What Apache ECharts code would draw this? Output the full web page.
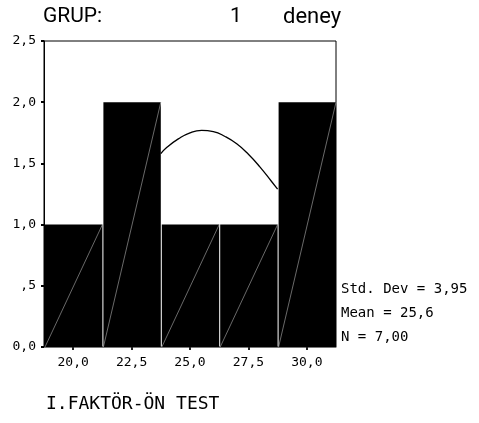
<!DOCTYPE html>
<html>
<head>
<meta charset="utf-8">
<script src="https://cdn.jsdelivr.net/npm/echarts@6/dist/echarts.min.js"></script>
<style>
  html, body { margin: 0; padding: 0; background: #fff; }
  #chart { width: 479px; height: 423px; }
</style>
</head>
<body>
<div id="chart"></div>
<script>
// Histogram bins (centre of each bin) and frequencies
const binCenters = [20, 22.5, 25, 27.5, 30];
const binWidth = 2.5;
const counts = [1, 2, 1, 1, 2];

// Visible part of the fitted normal curve (x, frequency)
const curveX = [23.75, 24.0, 24.5, 25.0, 25.5, 26.0, 26.5, 27.0, 27.5, 28.0, 28.5, 28.75];
const curveY = [1.58, 1.63, 1.70, 1.75, 1.77, 1.76, 1.72, 1.66, 1.575, 1.47, 1.35, 1.29];

// Tick values
const xTicks = [20, 22.5, 25, 27.5, 30];

// Texts
const titleParts = ['GRUP:', '1', 'deney'];
const statLines = ['Std. Dev = 3,95', 'Mean = 25,6', 'N = 7,00'];
const xAxisName = 'I.FAKTÖR-ÖN TEST';

const monoFont = '"DejaVu Sans Mono", "Liberation Mono", monospace';

function fmt(v) {
  let s = v.toFixed(1).replace('.', ',');
  if (v > 0 && v < 1) s = s.slice(1);
  return s;
}

const chart = echarts.init(document.getElementById('chart'), null, { renderer: 'canvas' });

const barData = binCenters.map((c, i) => [c, counts[i]]);
const curveData = curveX.map((x, i) => [x, curveY[i]]);

chart.setOption({
  animation: false,
  backgroundColor: '#fff',
  grid: {
    left: 44, top: 41, width: 292, height: 306,
    show: true, borderColor: '#000', borderWidth: 1, backgroundColor: 'transparent'
  },
  xAxis: {
    type: 'value',
    min: binCenters[0] - binWidth / 2,
    max: binCenters[binCenters.length - 1] + binWidth / 2,
    splitLine: { show: false },
    axisLine: { show: true, lineStyle: { color: '#777', width: 1 } },
    axisTick: { show: true, customValues: xTicks, length: 3, lineStyle: { color: '#222', width: 2 } },
    axisLabel: {
      customValues: xTicks,
      formatter: fmt,
      color: '#000',
      fontFamily: monoFont,
      fontSize: 13,
      margin: 9
    }
  },
  yAxis: {
    type: 'value',
    min: 0, max: 2.5, interval: 0.5,
    splitLine: { show: false },
    axisLine: { show: true, lineStyle: { color: '#000', width: 1 } },
    axisTick: { show: true, length: 3, lineStyle: { color: '#000', width: 2 } },
    axisLabel: {
      formatter: fmt,
      color: '#000',
      fontFamily: monoFont,
      fontSize: 13,
      margin: 8
    }
  },
  series: [
    {
      type: 'line',
      data: curveData,
      smooth: true,
      showSymbol: false,
      z: 1,
      lineStyle: { color: '#000', width: 1.3 }
    },
    {
      type: 'custom',
      z: 3,
      data: barData,
      renderItem: function (params, api) {
        const c = api.value(0);
        const n = api.value(1);
        const p0 = api.coord([c - binWidth / 2, 0]);
        const p1 = api.coord([c + binWidth / 2, n]);
        const x0 = p0[0] + 1;
        return {
          type: 'group',
          children: [
            {
              type: 'rect',
              shape: { x: x0, y: p1[1], width: p1[0] - x0, height: p0[1] - p1[1] },
              style: { fill: '#000' }
            },
            {
              type: 'line',
              shape: { x1: x0, y1: p0[1], x2: p1[0], y2: p1[1] },
              style: { stroke: '#b0b0b0', lineWidth: 0.6 }
            }
          ]
        };
      }
    }
  ],
  graphic: [
    { type: 'text', left: 43, top: 6, style: { text: titleParts[0], font: '21px Roboto', fill: '#000' } },
    { type: 'text', left: 230, top: 6, style: { text: titleParts[1], font: '21px Roboto', fill: '#000' } },
    { type: 'text', left: 283, top: 6, style: { text: titleParts[2], font: '22px Roboto', fill: '#000' } },
    { type: 'text', left: 341, top: 282, style: { text: statLines[0], font: '14px ' + monoFont, fill: '#000' } },
    { type: 'text', left: 341, top: 306, style: { text: statLines[1], font: '14px ' + monoFont, fill: '#000' } },
    { type: 'text', left: 341, top: 330, style: { text: statLines[2], font: '14px ' + monoFont, fill: '#000' } },
    { type: 'text', left: 46, top: 395, style: { text: xAxisName, font: '18px ' + monoFont, fill: '#000' } }
  ]
});
</script>
</body>
</html>
